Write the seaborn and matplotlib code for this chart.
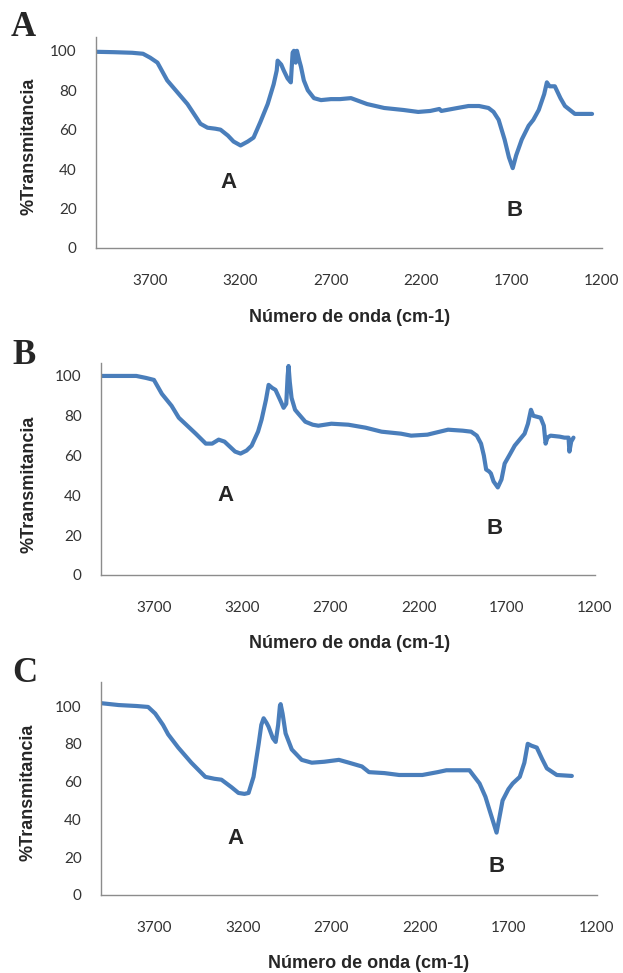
import numpy as np
import pandas as pd
import matplotlib
matplotlib.use("Agg")
import matplotlib.pyplot as plt
import seaborn as sns

# espectros FTIR (numero de onda, %T)
wn_a = [4000, 3900, 3800, 3740, 3700, 3660, 3606, 3550, 3494, 3422, 3383, 3340, 3311,
        3270, 3239, 3200, 3160, 3128, 3090, 3050, 3017, 3000, 2995, 2975, 2961, 2940,
        2922, 2912, 2905, 2895, 2888, 2875, 2866, 2850, 2828, 2794, 2755, 2700, 2650,
        2589, 2500, 2405, 2300, 2217, 2150, 2100, 2089, 2000, 1939, 1880, 1828, 1800,
        1772, 1739, 1715, 1694, 1675, 1644, 1606, 1580, 1550, 1520, 1505, 1490, 1461,
        1430, 1405, 1350, 1300, 1255]
t_a = [99.5, 99.3, 99, 98.5, 96.5, 94, 85, 79, 73, 63, 61, 60.5, 60,
       57, 54, 52, 54, 56, 64, 73, 83, 90, 95, 93, 90, 86,
       84, 99, 100, 94, 100, 95, 92, 85, 80, 76, 75, 75.5, 75.5,
       76, 73, 71, 70, 69, 69.5, 70.5, 69.5, 71, 72, 72, 71, 69,
       65, 55, 46, 40.5, 47, 55, 62, 65, 70, 78, 84, 82, 82,
       76, 72, 68, 68, 68]

wn_b = [4000, 3900, 3800, 3745, 3700, 3655, 3600, 3559, 3463, 3406, 3370, 3333, 3300,
        3276, 3240, 3209, 3175, 3146, 3110, 3090, 3065, 3050, 3030, 3011, 2985, 2965,
        2950, 2942, 2937, 2930, 2920, 2900, 2881, 2842, 2800, 2768, 2694, 2598, 2500,
        2410, 2300, 2242, 2150, 2033, 1950, 1902, 1870, 1846, 1830, 1817, 1800, 1790,
        1775, 1751, 1730, 1712, 1680, 1655, 1599, 1580, 1563, 1550, 1508, 1490, 1480,
        1470, 1452, 1400, 1373, 1350, 1345, 1335, 1322]
t_b = [100, 100, 100, 99, 98, 91, 85, 79, 71, 66, 66, 68, 67,
       65, 62, 61, 62.5, 65, 72, 78, 88, 95.5, 94, 93, 88, 84,
       86, 100, 105, 97, 89, 83, 81, 77, 75.5, 75, 76, 75.5, 74,
       72, 71, 70, 70.5, 73, 72.5, 72, 70, 66, 60, 53, 52, 51,
       47, 44, 48, 56, 61, 65, 71, 76, 83, 80, 79, 75, 66,
       69, 70, 69.5, 69, 69, 62, 67, 69]

wn_c = [4000, 3900, 3800, 3734, 3694, 3650, 3621, 3564, 3490, 3411, 3360, 3320, 3263,
        3224, 3190, 3167, 3139, 3110, 3095, 3082, 3065, 3054, 3030, 3014, 3000, 2990,
        2986, 2975, 2958, 2923, 2867, 2810, 2740, 2657, 2600, 2527, 2487, 2400, 2317,
        2186, 2100, 2050, 1920, 1863, 1830, 1807, 1767, 1733, 1700, 1676, 1636, 1610,
        1591, 1570, 1540, 1510, 1483, 1427, 1342]
t_c = [101.5, 100.5, 100, 99.5, 96, 90, 85, 78, 70, 62.5, 61.5, 61, 57,
       54, 53.5, 54, 62.5, 80, 90, 93.5, 91, 89, 83, 81, 90, 100,
       101, 96, 85.5, 77, 71.5, 70, 70.5, 71.5, 70, 68, 65, 64.5, 63.5,
       63.5, 65, 66, 66, 59, 52, 45, 33, 50, 56, 59, 62.5, 70,
       80, 79, 78, 72, 67, 63.5, 63]

x_ticks = [3700, 3200, 2700, 2200, 1700, 1200]
y_ticks = [0, 20, 40, 60, 80, 100]
panel_letters = ["A", "B", "C"]
peak_labels = ["A", "B"]

sns.set_style("white")
plt.rcParams['font.family'] = ['Liberation Sans', 'DejaVu Sans']

W, H = 623, 973
fig = plt.figure(figsize=(W / 100, H / 100), dpi=100)


def fx(x):
    return x / W


def fy(y):
    return 1 - y / H


line_color = "#4a7ebb"
spine_color = "#8c8c8c"

panels = [
    # datos, caja en px (izq, der, arriba, abajo), ymax, pos. letras, etiquetas
    dict(wn=wn_a, t=t_a, box=(96, 602, 37, 248), ymax=107, letter=(23, 28),
         ylab=(29, 146), xlab=(350, 318), peaks=[(3267, 33), (1683, 19)]),
    dict(wn=wn_b, t=t_b, box=(101, 595, 363, 575), ymax=106.5, letter=(24, 355),
         ylab=(28.5, 484), xlab=(350, 644), peaks=[(3293, 40), (1768, 23.5)]),
    dict(wn=wn_c, t=t_c, box=(101, 597, 682, 895), ymax=112.7, letter=(25, 674),
         ylab=(28, 792), xlab=(369, 964), peaks=[(3241, 30), (1767, 15)]),
]

for letter, p in zip(panel_letters, panels):
    l, r, t, b = p["box"]
    ax = fig.add_axes([fx(l), fy(b), fx(r - l), (b - t) / H])
    df = pd.DataFrame({"wn": p["wn"], "T": p["t"]})
    sns.lineplot(data=df, x="wn", y="T", ax=ax, color=line_color, linewidth=3.0,
                 sort=False, estimator=None)
    ax.set_xlim(4000, 1200)
    ax.set_ylim(0, p["ymax"])
    ax.set_xticks(x_ticks)
    ax.set_yticks(y_ticks)
    ax.set_xlabel("")
    ax.set_ylabel("")
    for s in ["top", "right"]:
        ax.spines[s].set_visible(False)
    for s in ["left", "bottom"]:
        ax.spines[s].set_color(spine_color)
        ax.spines[s].set_linewidth(1.0)
    ax.tick_params(axis="x", direction="out", length=6, width=1, color=spine_color,
                   pad=13, labelsize=11, labelcolor="#333333")
    ax.tick_params(axis="y", direction="out", length=5, width=1, color=spine_color,
                   pad=9, labelsize=11, labelcolor="#333333")
    for lab in ax.get_xticklabels() + ax.get_yticklabels():
        lab.set_family(['Lato', 'DejaVu Sans'])
    for name, (px_, py_) in zip(peak_labels, p["peaks"]):
        ax.text(px_, py_, name, ha="center", va="center", fontsize=16,
                fontweight="bold")

    fig.text(fx(p["letter"][0]), fy(p["letter"][1]), letter, ha="center", va="center",
             fontsize=25, fontweight="bold", family=['Liberation Serif', 'DejaVu Serif'])
    fig.text(fx(p["ylab"][0]), fy(p["ylab"][1]), "%Transmitancia", rotation=90,
             ha="center", va="center", fontsize=13, fontweight="bold")
    fig.text(fx(p["xlab"][0]), fy(p["xlab"][1]), "Número de onda (cm-1)",
             ha="center", va="center", fontsize=13, fontweight="bold")

fig.savefig("out.png", dpi=100, facecolor="white")
